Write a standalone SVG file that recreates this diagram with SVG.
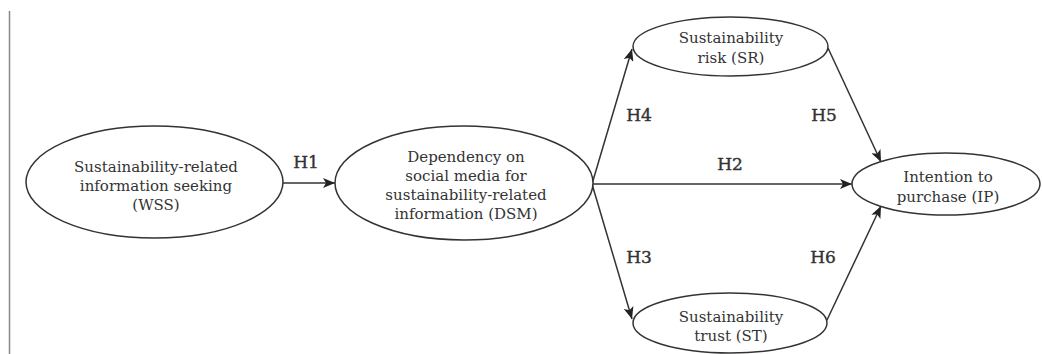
<svg xmlns="http://www.w3.org/2000/svg" width="1042" height="354" viewBox="0 0 1042 354">
<defs>
<style>
.n{fill:#fff;stroke:#333;stroke-width:1.5}
.t{font-family:"DejaVu Serif","Liberation Serif",serif;font-size:15px;fill:#333;text-anchor:middle}
.h{font-family:"DejaVu Serif","Liberation Serif",serif;font-size:17px;fill:#333;stroke:#333;stroke-width:0.4;text-anchor:middle}
.c{stroke:#333;stroke-width:1.5;fill:none;marker-end:url(#ah)}
</style>
<marker id="ah" viewBox="0 0 12 10" refX="12" refY="5" markerWidth="12" markerHeight="10" markerUnits="userSpaceOnUse" orient="auto">
<path d="M0,0 L12,5 L0,10 L3,5 Z" fill="#222"/>
</marker>
</defs>
<rect width="1042" height="354" fill="#fff"/>
<line x1="9.5" y1="11" x2="9.5" y2="354" stroke="#888" stroke-width="1.5"/>
<g id="connectors">
<line class="c" x1="283" y1="183" x2="335" y2="183"/>
<line class="c" x1="592" y1="184" x2="852" y2="184"/>
<line class="c" x1="592" y1="184" x2="632" y2="49"/>
<line class="c" x1="592" y1="184" x2="632" y2="319"/>
<line class="c" x1="828" y1="48" x2="881" y2="162"/>
<line class="c" x1="827" y1="320" x2="881" y2="206"/>
<text class="h" x="306" y="168">H1</text>
<text class="h" x="730" y="170">H2</text>
<text class="h" x="639" y="121">H4</text>
<text class="h" x="824" y="121">H5</text>
<text class="h" x="639" y="263">H3</text>
<text class="h" x="823" y="263">H6</text>
</g>
<g id="WSS">
<ellipse class="n" cx="154.5" cy="182" rx="128.5" ry="56"/>
<text class="t" x="156" y="172">Sustainability-related</text>
<text class="t" x="156" y="191">information seeking</text>
<text class="t" x="156" y="210">(WSS)</text>
</g>
<g id="DSM">
<ellipse class="n" cx="464" cy="183" rx="129" ry="57"/>
<text class="t" x="466" y="162">Dependency on</text>
<text class="t" x="466" y="181">social media for</text>
<text class="t" x="466" y="200">sustainability-related</text>
<text class="t" x="466" y="219">information (DSM)</text>
</g>
<g id="SR">
<ellipse class="n" cx="730.5" cy="46.5" rx="97.5" ry="29.5"/>
<text class="t" x="731" y="43">Sustainability</text>
<text class="t" x="731" y="63">risk (SR)</text>
</g>
<g id="ST">
<ellipse class="n" cx="730" cy="323" rx="97" ry="30"/>
<text class="t" x="731" y="322">Sustainability</text>
<text class="t" x="731" y="341">trust (ST)</text>
</g>
<g id="IP">
<ellipse class="n" cx="946" cy="184" rx="94" ry="31"/>
<text class="t" x="948" y="182">Intention to</text>
<text class="t" x="948" y="202">purchase (IP)</text>
</g>
</svg>
